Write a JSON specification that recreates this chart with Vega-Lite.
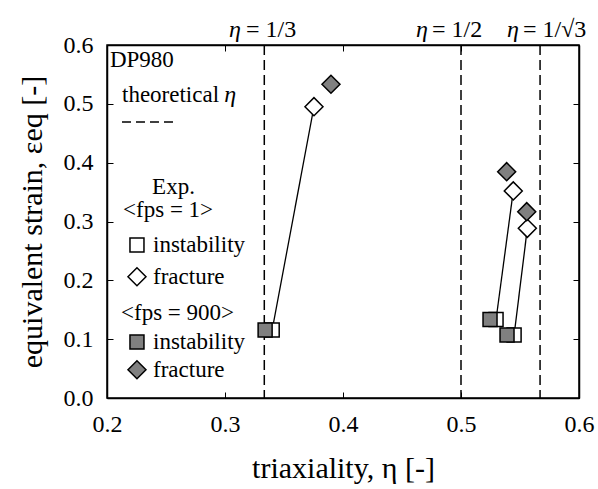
{
  "$schema": "https://vega.github.io/schema/vega-lite/v6.json",
  "width": 472,
  "height": 353,
  "autosize": {"type": "none"},
  "padding": {"left": 107, "top": 45, "right": 19, "bottom": 91},
  "background": "white",
  "config": {
    "view": {"stroke": "black", "strokeWidth": 1.5},
    "font": "Liberation Serif, serif",
    "axis": {
      "grid": false,
      "domainColor": "black",
      "domainWidth": 1.5,
      "tickColor": "black",
      "tickWidth": 1,
      "tickSize": -6,
      "labelFlush": false,
      "labelFont": "Liberation Serif, serif",
      "labelFontSize": 24,
      "labelColor": "black",
      "titleFont": "Liberation Serif, serif",
      "titleFontSize": 30,
      "titleFontWeight": "normal",
      "titleColor": "black"
    }
  },
  "datasets": {
    "thresholds": [{"eta": 0.3333}, {"eta": 0.5}, {"eta": 0.567}],
    "points": [
      {"eta": 0.340, "strain": 0.1156, "fps": "1", "type": "instability", "spec": "A"},
      {"eta": 0.3754, "strain": 0.4952, "fps": "1", "type": "fracture", "spec": "A"},
      {"eta": 0.5297, "strain": 0.1334, "fps": "1", "type": "instability", "spec": "B"},
      {"eta": 0.5443, "strain": 0.352, "fps": "1", "type": "fracture", "spec": "B"},
      {"eta": 0.545, "strain": 0.107, "fps": "1", "type": "instability", "spec": "C"},
      {"eta": 0.5562, "strain": 0.2884, "fps": "1", "type": "fracture", "spec": "C"},
      {"eta": 0.334, "strain": 0.1156, "fps": "900", "type": "instability", "spec": "A"},
      {"eta": 0.3898, "strain": 0.5332, "fps": "900", "type": "fracture", "spec": "A"},
      {"eta": 0.5246, "strain": 0.1334, "fps": "900", "type": "instability", "spec": "B"},
      {"eta": 0.5387, "strain": 0.3847, "fps": "900", "type": "fracture", "spec": "B"},
      {"eta": 0.539, "strain": 0.107, "fps": "900", "type": "instability", "spec": "C"},
      {"eta": 0.5557, "strain": 0.3167, "fps": "900", "type": "fracture", "spec": "C"}
    ],
    "legendSymbols": [
      {"eta": 0.2254, "strain": 0.260, "fps": "1", "type": "instability"},
      {"eta": 0.2254, "strain": 0.206, "fps": "1", "type": "fracture"},
      {"eta": 0.2254, "strain": 0.095, "fps": "900", "type": "instability"},
      {"eta": 0.2254, "strain": 0.048, "fps": "900", "type": "fracture"}
    ],
    "legendLine": [{"eta": 0.2127, "eta2": 0.2576, "strain": 0.469}],
    "labels": [
      {"eta": 0.2025, "strain": 0.5745, "text": "DP980"},
      {"eta": 0.2127, "strain": 0.515, "text": "theoretical"},
      {"eta": 0.2382, "strain": 0.3586, "text": "Exp."},
      {"eta": 0.2136, "strain": 0.3195, "text": "<fps = 1>"},
      {"eta": 0.239, "strain": 0.260, "text": "instability"},
      {"eta": 0.239, "strain": 0.206, "text": "fracture"},
      {"eta": 0.2119, "strain": 0.1445, "text": "<fps = 900>"},
      {"eta": 0.239, "strain": 0.095, "text": "instability"},
      {"eta": 0.239, "strain": 0.048, "text": "fracture"}
    ],
    "topLabels": [
      {"eta": 0.3178, "strain": 0.626, "text": "= 1/3"},
      {"eta": 0.4754, "strain": 0.626, "text": "= 1/2"},
      {"eta": 0.5525, "strain": 0.626, "text": "= 1/√3"}
    ],
    "italics": [
      {"eta": 0.3045, "strain": 0.515, "text": "η"},
      {"eta": 0.3085, "strain": 0.626, "text": "η"},
      {"eta": 0.467, "strain": 0.626, "text": "η"},
      {"eta": 0.544, "strain": 0.626, "text": "η"}
    ]
  },
  "resolve": {"axis": {"x": "independent", "y": "independent"}},
  "layer": [
    {
      "data": {"name": "thresholds"},
      "mark": {"type": "rule", "color": "black", "strokeWidth": 1.5, "strokeDash": [10, 5]},
      "encoding": {
        "x": {
          "field": "eta", "type": "quantitative",
          "scale": {"domain": [0.2, 0.6], "nice": false, "zero": false},
          "axis": {"orient": "bottom", "values": [0.2, 0.3, 0.4, 0.5, 0.6], "format": ".1f", "labelPadding": 20, "title": "triaxiality, η [-]", "titlePadding": 17}
        }
      }
    },
    {
      "data": {"name": "points"},
      "transform": [{"filter": "datum.fps == '1'"}],
      "mark": {"type": "line", "color": "black", "strokeWidth": 1.3},
      "encoding": {
        "x": {"field": "eta", "type": "quantitative", "axis": {"orient": "top", "values": [0.2, 0.3, 0.4, 0.5, 0.6], "labels": false, "title": null}},
        "y": {
          "field": "strain", "type": "quantitative",
          "scale": {"domain": [0, 0.6], "nice": false, "zero": false},
          "axis": {"orient": "left", "values": [0, 0.1, 0.2, 0.3, 0.4, 0.5, 0.6], "format": ".1f", "labelPadding": 20, "title": "equivalent strain, εeq [-]", "titlePadding": 16}
        },
        "detail": {"field": "spec"},
        "order": {"field": "strain"}
      }
    },
    {
      "data": {"name": "legendLine"},
      "mark": {"type": "rule", "color": "black", "strokeWidth": 1.5, "strokeDash": [9, 5]},
      "encoding": {
        "x": {"field": "eta", "type": "quantitative", "axis": null},
        "x2": {"field": "eta2"},
        "y": {"field": "strain", "type": "quantitative", "axis": {"orient": "right", "values": [0, 0.1, 0.2, 0.3, 0.4, 0.5, 0.6], "labels": false, "title": null}}
      }
    },
    {
      "data": {"name": "points"},
      "mark": {"type": "point", "filled": true, "stroke": "black", "strokeWidth": 1.5, "opacity": 1},
      "encoding": {
        "x": {"field": "eta", "type": "quantitative", "axis": null},
        "y": {"field": "strain", "type": "quantitative", "axis": null},
        "shape": {"field": "type", "type": "nominal", "scale": {"domain": ["instability", "fracture"], "range": ["square", "diamond"]}, "legend": null},
        "size": {"field": "type", "type": "nominal", "scale": {"domain": ["instability", "fracture"], "range": [196, 324]}, "legend": null},
        "fill": {"field": "fps", "type": "nominal", "scale": {"domain": ["1", "900"], "range": ["white", "#808080"]}, "legend": null}
      }
    },
    {
      "data": {"name": "legendSymbols"},
      "mark": {"type": "point", "filled": true, "stroke": "black", "strokeWidth": 1.5, "opacity": 1},
      "encoding": {
        "x": {"field": "eta", "type": "quantitative", "axis": null},
        "y": {"field": "strain", "type": "quantitative", "axis": null},
        "shape": {"field": "type", "type": "nominal", "legend": null},
        "size": {"field": "type", "type": "nominal", "legend": null},
        "fill": {"field": "fps", "type": "nominal", "legend": null}
      }
    },
    {
      "data": {"name": "labels"},
      "mark": {"type": "text", "align": "left", "baseline": "middle", "font": "Liberation Serif, serif", "fontSize": 23, "color": "black"},
      "encoding": {
        "x": {"field": "eta", "type": "quantitative", "axis": null},
        "y": {"field": "strain", "type": "quantitative", "axis": null},
        "text": {"field": "text"}
      }
    },
    {
      "data": {"name": "topLabels"},
      "mark": {"type": "text", "align": "left", "baseline": "middle", "font": "Liberation Serif, serif", "fontSize": 24, "color": "black"},
      "encoding": {
        "x": {"field": "eta", "type": "quantitative", "axis": null},
        "y": {"field": "strain", "type": "quantitative", "axis": null},
        "text": {"field": "text"}
      }
    },
    {
      "data": {"name": "italics"},
      "mark": {"type": "text", "align": "center", "baseline": "middle", "font": "Liberation Serif, serif", "fontStyle": "italic", "fontSize": 24, "color": "black"},
      "encoding": {
        "x": {"field": "eta", "type": "quantitative", "axis": null},
        "y": {"field": "strain", "type": "quantitative", "axis": null},
        "text": {"field": "text"}
      }
    }
  ]
}
